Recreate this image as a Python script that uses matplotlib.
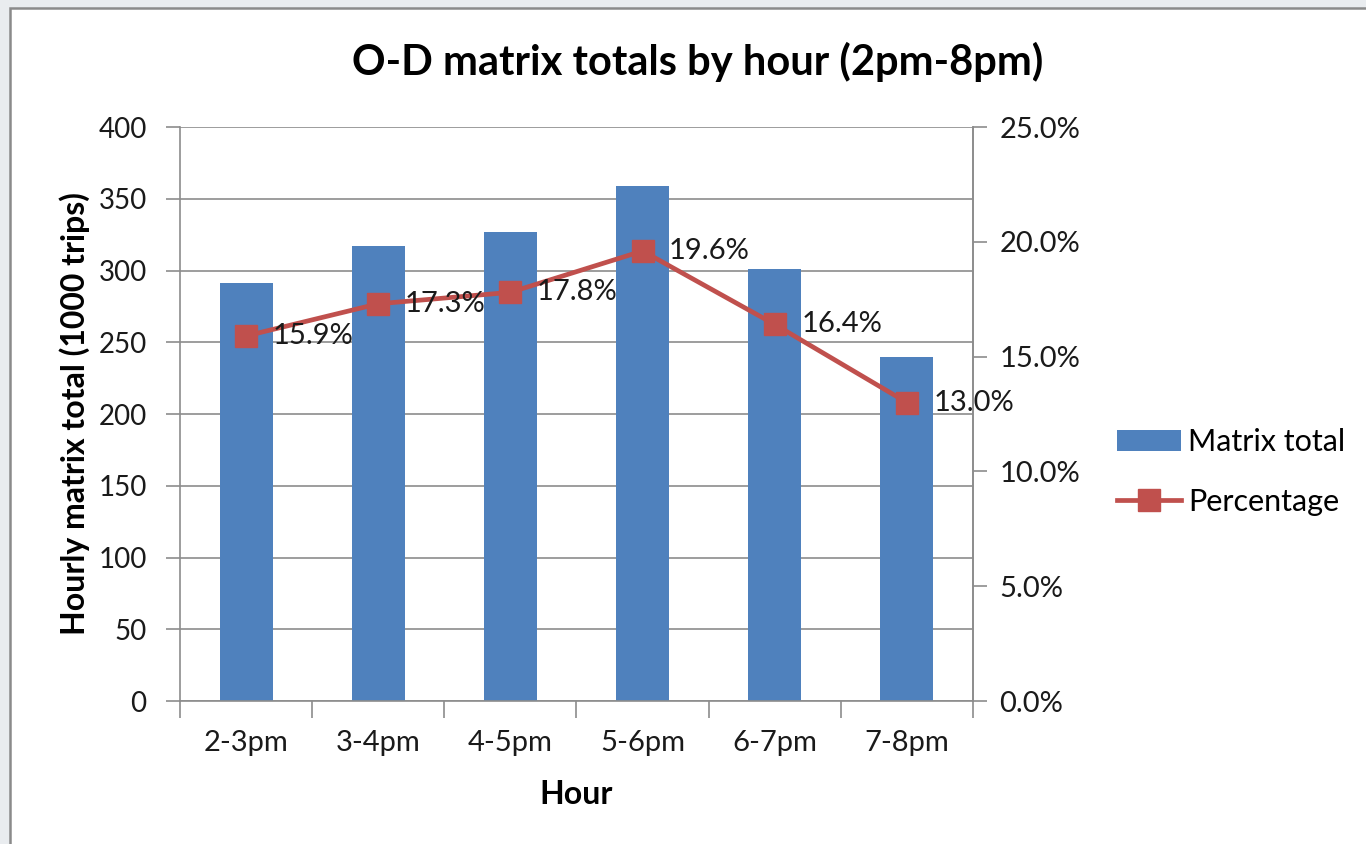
import matplotlib
matplotlib.use("Agg")
import matplotlib.pyplot as plt
from matplotlib.patches import Rectangle
from matplotlib.ticker import FixedLocator, FuncFormatter

hours = ["2-3pm", "3-4pm", "4-5pm", "5-6pm", "6-7pm", "7-8pm"]
matrix_total = [291, 317, 327, 359, 301, 240]
percentage = [15.9, 17.3, 17.8, 19.6, 16.4, 13.0]

plt.rcParams['font.family'] = ['Lato', 'DejaVu Sans']

W, H = 1366, 844
fig = plt.figure(figsize=(W / 100, H / 100), dpi=100)
fig.patch.set_facecolor("#e9ecef")
fig.patches.append(Rectangle((10 / W, -0.1), 1.2, 1.1 - 8 / H, transform=fig.transFigure,
                             facecolor="white", edgecolor="#8a8a8a", linewidth=1.8, zorder=-5))

ax = fig.add_axes([180 / W, 1 - 701 / H, (973 - 180) / W, (701 - 127) / H])
ax.set_facecolor("none")
x = list(range(len(hours)))
ax.bar(x, matrix_total, width=0.4, color="#4F81BD", zorder=2, label="Matrix total")
ax.set_xlim(-0.5, 5.5)
ax.set_ylim(0, 400)
ax.set_yticks(range(0, 401, 50))
ax.yaxis.grid(True, color="#8c8c8c", linewidth=1.2, zorder=0)
ax.set_axisbelow(True)
ax.xaxis.set_major_locator(FixedLocator([i - 0.5 for i in range(7)]))
ax.xaxis.set_minor_locator(FixedLocator(x))
ax.set_xticklabels([], minor=False)
ax.set_xticklabels(hours, minor=True)
ax.tick_params(axis="x", which="major", length=12, width=1.2, color="#8c8c8c", direction="out")
ax.tick_params(axis="x", which="minor", length=0, pad=21, labelsize=21, labelcolor="#1a1a1a")
ax.tick_params(axis="y", length=10, width=1.2, color="#8c8c8c", pad=14, labelsize=20,
               labelcolor="#1a1a1a")
ax.spines["top"].set_visible(False)
for s in ["left", "right", "bottom"]:
    ax.spines[s].set_color("#8c8c8c")
    ax.spines[s].set_linewidth(1.2)
ax.set_ylabel("Hourly matrix total (1000 trips)", fontsize=23, fontweight="bold", labelpad=6)
ax.set_xlabel("Hour", fontsize=23, fontweight="bold", labelpad=17)

ax2 = ax.twinx()
ax2.plot(x, percentage, color="#C0504D", linewidth=3.4, marker="s", markersize=16,
         label="Percentage", zorder=3)
ax2.set_ylim(0, 25)
ax2.set_yticks([0, 5, 10, 15, 20, 25])
ax2.yaxis.set_major_formatter(FuncFormatter(lambda v, p: f"{v:.1f}%"))
ax2.tick_params(axis="y", length=10, width=1.2, color="#8c8c8c", pad=9, labelsize=21,
                labelcolor="#1a1a1a")
ax2.spines["top"].set_visible(False)
ax2.spines["right"].set_color("#8c8c8c")
ax2.spines["right"].set_linewidth(1.2)
ax2.spines["left"].set_visible(False)
ax2.spines["bottom"].set_visible(False)
for xi, p in zip(x, percentage):
    ax2.annotate(f"{p:.1f}%", (xi, p), xytext=(19, 0), textcoords="offset points",
                 va="center", ha="left", fontsize=21, color="#1a1a1a", zorder=4)

h1, l1 = ax.get_legend_handles_labels()
h2, l2 = ax2.get_legend_handles_labels()
fig.legend(h1 + h2, l1 + l2, loc="center left", bbox_to_anchor=(1089 / W, 1 - 472 / H),
           frameon=False, fontsize=22, handlelength=2.1, labelspacing=1.05, handletextpad=0.25)

fig.text(698 / W, 1 - 62 / H, "O-D matrix totals by hour (2pm-8pm)", ha="center", va="center",
         fontsize=30, fontweight="bold")

fig.savefig("out.png", dpi=100, facecolor=fig.get_facecolor())
